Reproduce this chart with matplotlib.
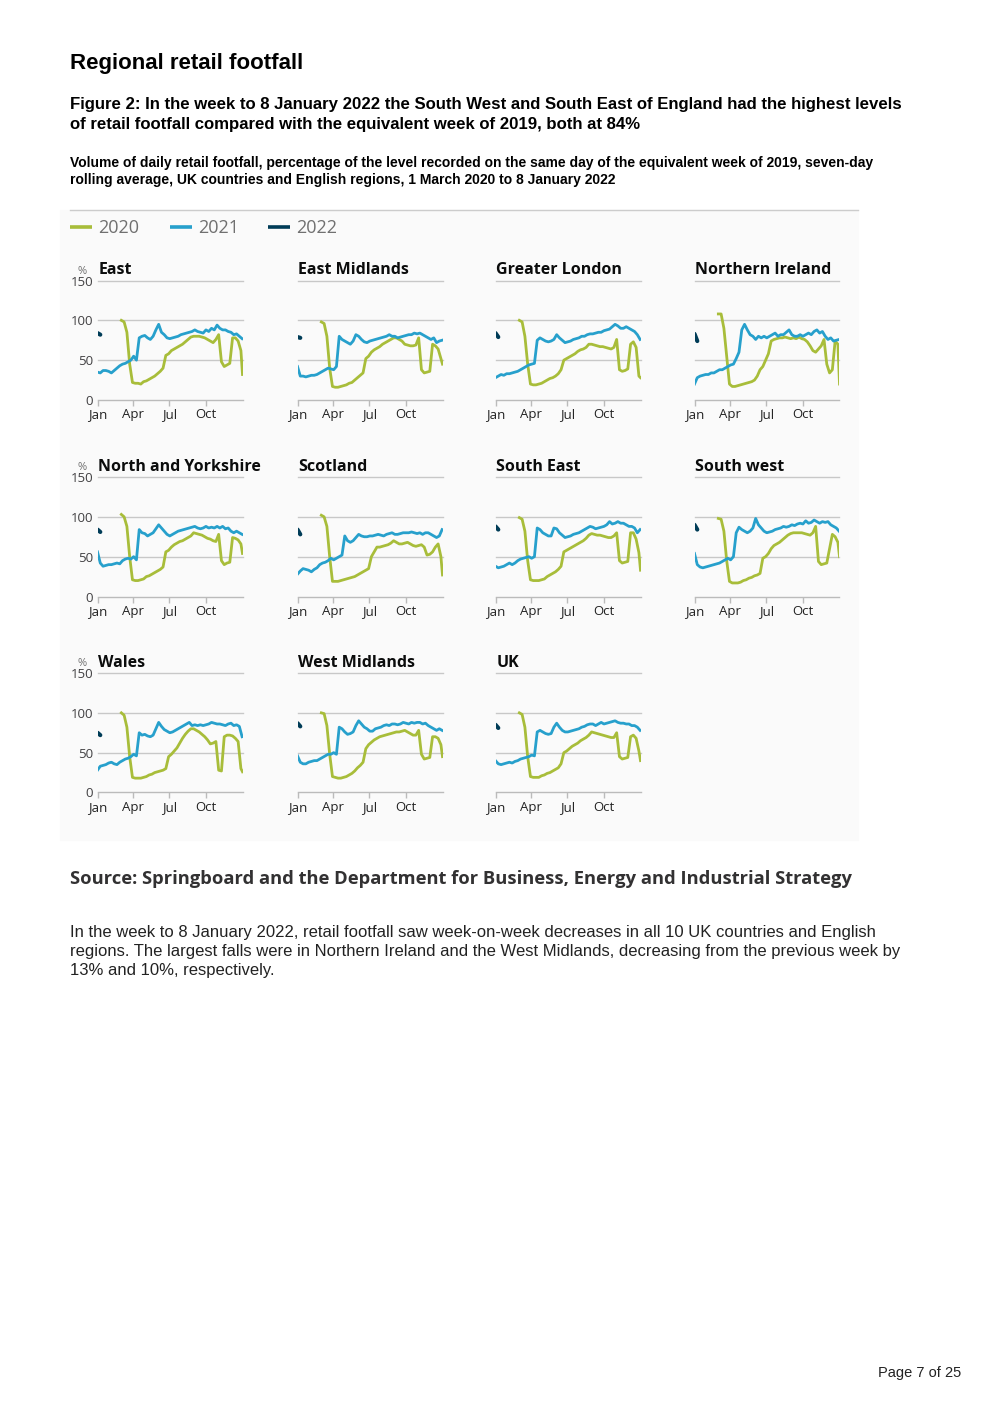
import matplotlib
matplotlib.use('Agg')
import matplotlib.pyplot as plt
from matplotlib.lines import Line2D
from matplotlib.patches import Rectangle
import pandas as pd

# weekly samples (7-day rolling average, % of 2019)
dates_2020 = list(pd.date_range('2020-03-01', '2020-12-27', freq='7D')) + [pd.Timestamp('2020-12-31')]
dates_2021 = list(pd.date_range('2021-01-01', '2021-12-31', freq='7D'))
dates_2022 = list(pd.to_datetime(['2022-01-01', '2022-01-08']))

month_ticks = [0, 90, 181, 273]
month_labels = ['Jan', 'Apr', 'Jul', 'Oct']

east_2020 = [100, 98, 85, 45, 22, 21, 21, 20, 23, 24,
             26, 28, 30, 33, 36, 40, 56, 58, 62, 64,
             66, 68, 70, 73, 76, 79, 80, 80, 80, 79,
             78, 76, 74, 72, 76, 82, 48, 42, 44, 46,
             78, 78, 74, 62, 32]
east_2021 = [35, 34, 37, 37, 36, 34, 37, 40, 43, 45,
             46, 48, 50, 55, 50, 78, 80, 81, 78, 76,
             80, 88, 95, 85, 82, 78, 77, 78, 79, 80,
             82, 83, 84, 85, 86, 88, 86, 85, 84, 88,
             86, 90, 88, 94, 90, 88, 88, 86, 85, 82,
             83, 80, 77]
east_2022 = [84, 82]

em_2020 = [98, 96, 80, 40, 17, 16, 16, 17, 18, 19,
           21, 22, 25, 28, 31, 34, 52, 55, 60, 63,
           65, 67, 70, 72, 74, 76, 78, 78, 76, 74,
           70, 69, 68, 68, 69, 78, 38, 34, 35, 36,
           70, 68, 64, 52, 45]
em_2021 = [42, 30, 30, 29, 30, 31, 31, 32, 34, 36,
           38, 40, 39, 38, 42, 80, 76, 74, 72, 70,
           74, 82, 80, 76, 73, 72, 74, 75, 76, 77,
           78, 79, 80, 82, 80, 80, 78, 79, 80, 81,
           82, 82, 84, 83, 84, 82, 80, 78, 76, 78,
           72, 74, 75]
em_2022 = [79, 78]

london_2020 = [100, 98, 80, 45, 20, 19, 19, 20, 21, 23,
               25, 27, 28, 30, 33, 38, 50, 52, 54, 56,
               58, 61, 63, 64, 66, 70, 70, 69, 68, 67,
               67, 66, 65, 64, 66, 76, 38, 36, 37, 39,
               70, 73, 66, 30, 28]
london_2021 = [28, 30, 32, 31, 33, 33, 34, 35, 36, 38,
               40, 42, 44, 45, 46, 75, 78, 76, 74, 73,
               74, 76, 82, 78, 75, 72, 73, 74, 76, 77,
               78, 80, 80, 82, 83, 83, 84, 85, 85, 87,
               88, 89, 92, 95, 93, 90, 90, 92, 90, 88,
               86, 82, 76]
london_2022 = [84, 79]

ni_2020 = [108, 108, 90, 55, 20, 17, 17, 18, 19, 20,
           21, 22, 23, 25, 30, 38, 42, 50, 58, 74,
           76, 77, 78, 78, 79, 78, 77, 78, 77, 79,
           77, 76, 73, 68, 62, 60, 64, 68, 76, 45,
           34, 38, 74, 70, 20]
ni_2021 = [20, 28, 30, 31, 32, 32, 34, 34, 36, 38,
           38, 40, 42, 44, 45, 52, 60, 88, 95, 88,
           82, 80, 76, 80, 78, 80, 78, 80, 82, 84,
           80, 82, 82, 85, 88, 82, 80, 80, 82, 80,
           82, 84, 82, 86, 88, 84, 86, 80, 76, 78,
           74, 75, 76]
ni_2022 = [83, 74]

ny_2020 = [103, 100, 88, 50, 21, 20, 20, 21, 22, 25,
           26, 28, 30, 32, 34, 37, 56, 58, 62, 65,
           67, 69, 70, 72, 74, 76, 80, 79, 78, 77,
           75, 73, 72, 70, 69, 78, 45, 40, 42, 43,
           74, 73, 71, 66, 54]
ny_2021 = [56, 42, 38, 39, 40, 40, 41, 42, 41, 45,
           47, 48, 47, 50, 46, 84, 80, 79, 76, 78,
           80, 85, 90, 86, 82, 78, 76, 78, 80, 82,
           83, 84, 85, 86, 87, 88, 86, 85, 86, 88,
           86, 87, 86, 88, 86, 88, 85, 86, 82, 80,
           82, 80, 78]
ny_2022 = [84, 81]

scot_2020 = [102, 100, 88, 50, 19, 19, 19, 20, 21, 22,
             23, 24, 25, 27, 29, 31, 33, 35, 50, 56,
             62, 62, 63, 64, 65, 67, 70, 68, 66, 66,
             67, 68, 66, 64, 63, 64, 65, 62, 52, 53,
             56, 62, 66, 50, 27]
scot_2021 = [28, 32, 35, 34, 33, 31, 34, 36, 40, 42,
             43, 45, 48, 46, 48, 50, 52, 76, 70, 68,
             70, 74, 78, 76, 75, 75, 76, 76, 77, 78,
             77, 76, 78, 79, 80, 78, 78, 79, 80, 80,
             80, 81, 80, 79, 80, 78, 80, 80, 78, 76,
             74, 76, 84]
scot_2022 = [84, 78]

se_2020 = [99, 97, 82, 45, 21, 20, 20, 20, 21, 22,
           25, 27, 29, 31, 34, 38, 56, 58, 60, 62,
           64, 66, 68, 70, 73, 77, 79, 78, 77, 77,
           76, 75, 74, 74, 76, 80, 45, 42, 43, 44,
           80, 80, 72, 55, 33]
se_2021 = [38, 36, 37, 38, 40, 42, 40, 42, 45, 47,
           48, 49, 50, 48, 50, 86, 84, 80, 78, 76,
           76, 86, 85, 80, 77, 74, 75, 76, 78, 79,
           80, 82, 84, 86, 88, 87, 85, 86, 87, 88,
           90, 94, 91, 92, 94, 92, 92, 90, 88, 88,
           86, 80, 84]
se_2022 = [88, 84]

sw_2020 = [98, 97, 82, 45, 19, 17, 17, 17, 18, 20,
           21, 23, 24, 26, 27, 29, 48, 50, 54, 60,
           64, 66, 68, 71, 74, 77, 79, 80, 80, 80,
           80, 79, 78, 77, 80, 88, 44, 40, 41, 42,
           60, 78, 75, 68, 50]
sw_2021 = [54, 40, 37, 36, 37, 38, 39, 40, 41, 42,
           44, 46, 48, 46, 50, 80, 87, 84, 82, 80,
           82, 86, 98, 90, 86, 82, 80, 81, 82, 84,
           85, 86, 88, 87, 88, 90, 89, 91, 92, 91,
           95, 92, 93, 96, 94, 92, 94, 93, 94, 90,
           88, 86, 82]
sw_2022 = [90, 84]

wales_2020 = [100, 97, 82, 45, 19, 18, 18, 18, 19, 20,
              22, 23, 25, 26, 27, 28, 30, 45, 48, 52,
              56, 62, 68, 73, 77, 80, 80, 78, 76, 73,
              70, 66, 61, 62, 64, 28, 27, 70, 72, 72,
              71, 68, 64, 30, 26]
wales_2021 = [28, 33, 34, 35, 37, 38, 36, 35, 38, 40,
              42, 43, 45, 48, 46, 75, 72, 73, 71, 70,
              72, 80, 88, 83, 79, 77, 75, 76, 78, 80,
              82, 84, 86, 88, 84, 85, 84, 85, 84, 85,
              86, 88, 87, 86, 86, 85, 84, 86, 87, 84,
              85, 83, 70]
wales_2022 = [75, 72]

wm_2020 = [100, 99, 84, 48, 20, 19, 18, 18, 19, 20,
           22, 24, 27, 31, 34, 38, 55, 60, 63, 66,
           68, 70, 71, 72, 73, 74, 75, 76, 76, 77,
           78, 76, 74, 72, 72, 78, 48, 42, 43, 44,
           70, 70, 68, 60, 45]
wm_2021 = [46, 38, 36, 36, 38, 39, 40, 40, 42, 44,
           46, 48, 48, 50, 48, 82, 80, 76, 73, 74,
           76, 84, 90, 86, 82, 80, 77, 77, 80, 81,
           82, 84, 85, 84, 86, 86, 85, 86, 88, 87,
           86, 88, 87, 88, 88, 86, 87, 84, 82, 80,
           78, 80, 78]
wm_2022 = [87, 83]

uk_2020 = [100, 98, 82, 45, 20, 19, 19, 19, 21, 22,
           24, 25, 27, 29, 31, 36, 50, 52, 55, 58,
           60, 62, 65, 67, 69, 72, 76, 75, 74, 73,
           72, 71, 70, 69, 69, 75, 45, 42, 43, 44,
           70, 72, 68, 52, 40]
uk_2021 = [40, 36, 35, 36, 37, 38, 37, 39, 40, 42,
           43, 44, 45, 47, 46, 76, 78, 76, 74, 73,
           74, 82, 87, 82, 78, 76, 76, 77, 78, 79,
           80, 82, 83, 85, 86, 86, 84, 86, 88, 86,
           87, 88, 89, 90, 88, 87, 87, 86, 86, 84,
           84, 82, 78]
uk_2022 = [85, 81]

regions = [
    ('East', east_2020, east_2021, east_2022),
    ('East Midlands', em_2020, em_2021, em_2022),
    ('Greater London', london_2020, london_2021, london_2022),
    ('Northern Ireland', ni_2020, ni_2021, ni_2022),
    ('North and Yorkshire', ny_2020, ny_2021, ny_2022),
    ('Scotland', scot_2020, scot_2021, scot_2022),
    ('South East', se_2020, se_2021, se_2022),
    ('South west', sw_2020, sw_2021, sw_2022),
    ('Wales', wales_2020, wales_2021, wales_2022),
    ('West Midlands', wm_2020, wm_2021, wm_2022),
    ('UK', uk_2020, uk_2021, uk_2022),
]

years = ['2020', '2021', '2022']
colors = {'2020': '#a8bd3a', '2021': '#27a0cc', '2022': '#003c57'}

x20 = [d.dayofyear - 1 for d in dates_2020]
x21 = [d.dayofyear - 1 for d in dates_2021]
x22 = [d.dayofyear - 1 for d in dates_2022]

W, H = 992, 1403
fig = plt.figure(figsize=(W / 100, H / 100), dpi=100)


def fx(px):
    return px / W


def fy(py):
    return 1 - py / H


# light panel behind the chart
fig.add_artist(Rectangle((fx(60), fy(840)), (858 - 60) / W, (840 - 210) / H,
                         transform=fig.transFigure, color='#fafafa', zorder=0))
fig.add_artist(Line2D([fx(70), fx(858)], [fy(210), fy(210)], transform=fig.transFigure,
                      color='#cccccc', lw=1))

sans = ['Liberation Sans', 'DejaVu Sans']
opensans = ['Open Sans', 'DejaVu Sans']

fig.text(fx(70), fy(63), 'Regional retail footfall', family=sans, fontsize=16,
         weight='bold', va='center', color='#000000')
fig.text(fx(70), fy(104), 'Figure 2: In the week to 8 January 2022 the South West and South East '
         'of England had the highest levels', family=sans, fontsize=12.1, weight='bold',
         va='center')
fig.text(fx(70), fy(124), 'of retail footfall compared with the equivalent week of 2019, both at 84%',
         family=sans, fontsize=12.1, weight='bold', va='center')
fig.text(fx(70), fy(163), 'Volume of daily retail footfall, percentage of the level recorded on the '
         'same day of the equivalent week of 2019, seven-day', family=sans, fontsize=10,
         weight='bold', va='center')
fig.text(fx(70), fy(180), 'rolling average, UK countries and English regions, 1 March 2020 to 8 '
         'January 2022', family=sans, fontsize=10, weight='bold', va='center')

# legend
leg_x = [70, 170, 268]
for yr, lx in zip(years, leg_x):
    fig.add_artist(Line2D([fx(lx), fx(lx + 22)], [fy(227), fy(227)], transform=fig.transFigure,
                          color=colors[yr], lw=2.6, solid_capstyle='butt'))
    fig.text(fx(lx + 28), fy(228), yr, family=opensans, fontsize=13, color='#707070',
             va='center', ha='left')

col_x = [97.5, 297.5, 495.5, 694.5]
row_base = [400, 596.5, 792.5]
pw, ph = 145, 119.5

for i, (name, v20, v21, v22) in enumerate(regions):
    r, c = divmod(i, 4)
    ax = fig.add_axes([fx(col_x[c]), fy(row_base[r]), pw / W, ph / H])
    ax.set_facecolor('none')
    for s in ax.spines.values():
        s.set_visible(False)
    ax.set_xlim(0, 365)
    ax.set_ylim(0, 150)
    for gy in [50, 100, 150]:
        ax.axhline(gy, color='#c8c8c8', lw=1, zorder=1, clip_on=False)
    ax.axhline(0, color='#bbbbbb', lw=1, zorder=1, clip_on=False)

    ax.plot(x20, v20, color=colors['2020'], lw=2.0, zorder=3, solid_joinstyle='round')
    ax.plot(x21, v21, color=colors['2021'], lw=2.0, zorder=4, solid_joinstyle='round')
    ax.plot(x22, v22, color=colors['2022'], lw=3.0, zorder=5, solid_capstyle='round')

    ax.set_xticks(month_ticks)
    ax.set_xticklabels(month_labels, family=opensans, fontsize=9.5, color='#222222')
    ax.tick_params(axis='x', length=4, width=1, color='#bbbbbb', pad=2)
    ax.set_yticks([0, 50, 100, 150])
    if c == 0:
        ax.set_yticklabels(['0', '50', '100', '150'], family=opensans, fontsize=9.5,
                           color='#414042')
        ax.tick_params(axis='y', length=0, pad=3)
        ax.annotate('%', xy=(0, 1), xycoords='axes fraction', xytext=(-11, 5),
                    textcoords='offset points', ha='center', va='baseline',
                    family=opensans, fontsize=8, color='#707070')
    else:
        ax.set_yticklabels([])
        ax.tick_params(axis='y', length=0)

    ax.annotate(name, xy=(0, 1), xycoords='axes fraction', xytext=(0.5, 4.5),
                textcoords='offset points', ha='left', va='baseline',
                family=opensans, fontsize=11.5, weight='bold', color='#0b0c0c')

fig.text(fx(70), fy(879), 'Source: Springboard and the Department for Business, Energy and '
         'Industrial Strategy', family=opensans, fontsize=13.2, weight='bold',
         color='#323132', va='center')

body = ['In the week to 8 January 2022, retail footfall saw week-on-week decreases in all 10 UK '
        'countries and English',
        'regions. The largest falls were in Northern Ireland and the West Midlands, decreasing '
        'from the previous week by',
        '13% and 10%, respectively.']
for k, line in enumerate(body):
    fig.text(fx(70), fy(932 + k * 19.5), line, family=sans, fontsize=12, color='#222222',
             va='center')

fig.text(fx(961), fy(1373), 'Page 7 of 25', family=sans, fontsize=10.5, color='#222222',
         va='center', ha='right')

fig.savefig('out.png', dpi=100, facecolor='white')
